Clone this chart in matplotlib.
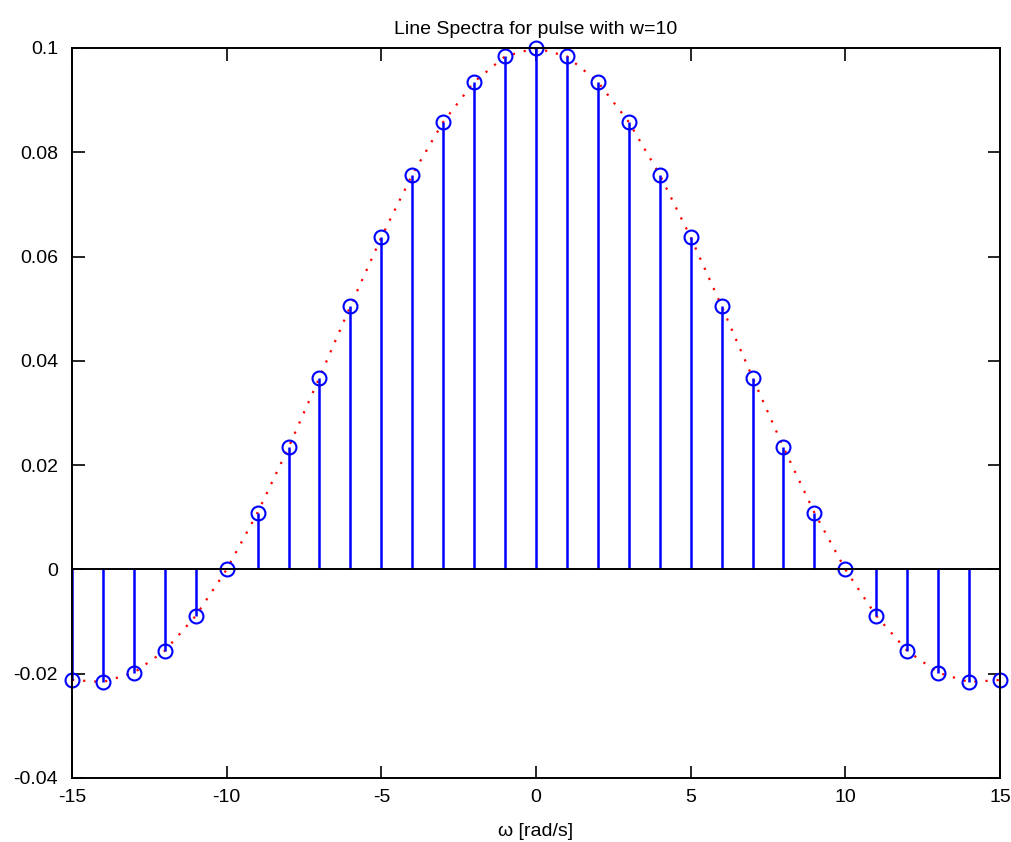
import matplotlib
matplotlib.use("Agg")
import matplotlib.pyplot as plt
import numpy as np

# Frecuencias (rad/s) y amplitudes de las líneas espectrales
omega = list(range(-15, 16))
amplitud_pos = [0.1, 0.0984, 0.0935, 0.0858, 0.0757, 0.0637, 0.0505, 0.0368,
                0.0234, 0.0109, 0.0, -0.0089, -0.0156, -0.0198, -0.0216, -0.0212]
amplitud = amplitud_pos[:0:-1] + amplitud_pos

x_ticks = [-15, -10, -5, 0, 5, 10, 15]
y_ticks = [-0.04, -0.02, 0, 0.02, 0.04, 0.06, 0.08, 0.1]
y_tick_labels = ["-0.04", "-0.02", "0", "0.02", "0.04", "0.06", "0.08", "0.1"]

plt.rcParams["font.family"] = ["Liberation Sans", "DejaVu Sans"]
plt.rcParams["axes.unicode_minus"] = False

fig = plt.figure(figsize=(10.12, 8.42), dpi=100)
ax = fig.add_axes([72 / 1012, 1 - 778 / 842, 928 / 1012, 730 / 842])

# Curva punteada roja
ax.plot(omega, amplitud, linestyle=(0, (1, 4)), color="red", linewidth=1.6, zorder=2)

# Stem azul
markers, stems, base = ax.stem(omega, amplitud, basefmt="k-")
plt.setp(stems, color="blue", linewidth=1.8)
plt.setp(markers, color="blue", markerfacecolor="none", markersize=10, markeredgewidth=1.5)
plt.setp(base, color="black", linewidth=1.4)
base.set_xdata([-15, 15])
markers.set_clip_on(False)

ax.set_xlim(-15, 15)
ax.set_ylim(-0.04, 0.1)
ax.set_xticks(x_ticks)
ax.set_yticks(y_ticks)
ax.set_yticklabels(y_tick_labels)
ax.tick_params(direction="in", length=9, width=1.2, top=True, right=True,
               labelsize=14, pad=8)
ax.tick_params(axis="y", pad=10)
for s in ax.spines.values():
    s.set_linewidth(1.4)

ax.set_title("Line Spectra for pulse with w=10", fontsize=14, pad=10)
ax.set_xlabel("ω [rad/s]", fontsize=14, labelpad=12)

fig.savefig("out.png", dpi=100)
